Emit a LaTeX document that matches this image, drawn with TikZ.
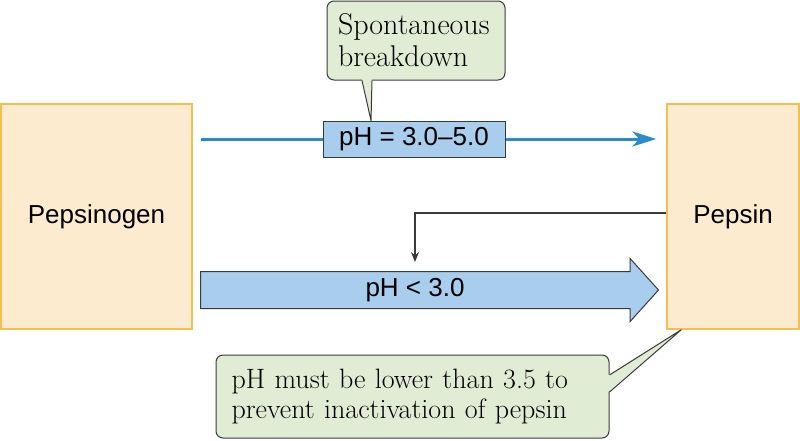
\documentclass[tikz,border=0pt]{standalone}
\usepackage{fontspec}
\newfontfamily\diagsans{Liberation Sans}
\usepackage{xcolor}
\definecolor{pepsinFill}{HTML}{FDEBCF}
\definecolor{pepsinEdge}{HTML}{F6BE4F}
\definecolor{phBlue}{HTML}{A9CDEC}
\definecolor{phLine}{HTML}{2A8BCB}
\definecolor{noteGreen}{HTML}{E1ECD4}
\definecolor{edgeGray}{HTML}{3A3A3A}
\usepackage{tikz}
\usetikzlibrary{arrows.meta, shapes.arrows}

\begin{document}
\begin{tikzpicture}[
		x=1pt, y=-1pt,
		enzyme/.style={
			draw=pepsinEdge,
			fill=pepsinFill,
			line width=1.4pt,
			minimum width=#1,
			minimum height=225pt,
			inner sep=0pt,
			font=\diagsans\fontsize{26}{30}\selectfont
		},
		phbox/.style={
			draw=edgeGray,
			fill=phBlue,
			line width=1pt,
			minimum width=182pt,
			minimum height=36pt,
			inner sep=0pt,
			font=\diagsans\fontsize{26}{30}\selectfont
		},
		acidarrow/.style={
			single arrow,
			draw=edgeGray,
			fill=phBlue,
			line width=1pt,
			minimum height=458pt,
			inner xsep=0pt,
			inner ysep=18pt,
			single arrow head extend=13pt,
			single arrow tip angle=96,
			single arrow head indent=0pt
		},
		sanslabel/.style={inner sep=0pt, font=\diagsans\fontsize{26}{30}\selectfont},
		note/.style={
			draw=edgeGray,
			fill=noteGreen,
			line width=1pt,
			rounded corners=7pt,
			align=left,
			inner sep=0pt
		},
		pointerfill/.style={fill=noteGreen},
		pointerline/.style={draw=edgeGray, line width=1pt, line join=round},
		flow/.style={-{Stealth[length=24pt,width=15pt,inset=7pt]}, draw=phLine, line width=3pt},
		flowline/.style={draw=phLine, line width=3pt},
		feedback/.style={-{Stealth[length=10pt,width=8pt]}, draw=edgeGray, line width=1.3pt}
		]
		
		\useasboundingbox (0,0) rectangle (800,440);
		
		% enzyme boxes
		\node[enzyme=191pt] (pepsinogen) at (96.5,216.5) {Pepsinogen};
		\node[enzyme=132pt] (pepsin) at (733,216.5) {Pepsin};
		
		% spontaneous route
		\node[phbox] (phhigh) at (414,139) {pH = 3.0–5.0};
		\draw[flowline] ([xshift=8pt]pepsinogen.east |- phhigh.west) -- (phhigh.west);
		\draw[flow] (phhigh.east) -- ([xshift=-10pt]pepsin.west |- phhigh.east);
		
		\node[note, minimum width=178pt, minimum height=79pt, text width=156pt, font=\fontsize{30}{32}\selectfont] (spont) at (416,40.5) {Spontaneous\\breakdown};
		\path[pointerfill] ([xshift=-54pt,yshift=1.5pt]spont.south) -- ([xshift=-43pt]phhigh.north) -- ([xshift=-44pt,yshift=1.5pt]spont.south) -- cycle;
		\draw[pointerline] ([xshift=-54pt]spont.south) -- ([xshift=-43pt]phhigh.north) -- ([xshift=-44pt]spont.south);
		
		% acid route
		\node[acidarrow, anchor=tail] (acid) at (200,290) {};
		\node[sanslabel] (acidlabel) at (415,290) {pH < 3.0};
		\draw[feedback] ([yshift=3.5pt]pepsin.west) -| ([yshift=28pt]acidlabel.center);
		
		\node[note, minimum width=393pt, minimum height=83pt, text width=362pt, font=\fontsize{28}{30}\selectfont] (lowph) at (412.5,396.5) {pH must be lower than 3.5 to\\prevent inactivation of pepsin};
		\path[pointerfill] ([xshift=-1.5pt,yshift=21.5pt]lowph.east) -- ([xshift=15pt]pepsin.south west) -- ([xshift=-1.5pt,yshift=4.5pt]lowph.east) -- cycle;
		\draw[pointerline] ([yshift=21.5pt]lowph.east) -- ([xshift=15pt]pepsin.south west) -- ([yshift=4.5pt]lowph.east);
		
	\end{tikzpicture}
\end{document}
